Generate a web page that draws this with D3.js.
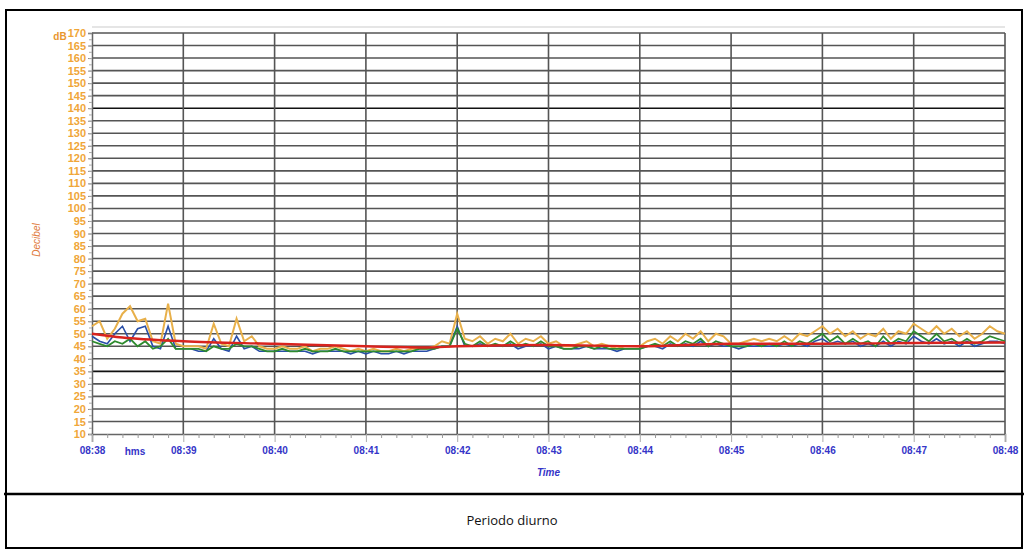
<!DOCTYPE html>
<html>
<head>
<meta charset="utf-8">
<script src="https://cdn.jsdelivr.net/npm/d3@7"></script>
<style>
  body { margin: 0; background: #fff; }
  svg { display: block; }
</style>
</head>
<body>
<div id="chart"></div>
<script>
// sample times: seconds since 08:38:00, one value every 5 s
const step = 5;
const orangeVals = [
  53, 55, 48, 52, 58, 61, 55, 56, 47, 46, 62, 46, 45,
  45, 45, 44, 54, 46, 45, 56, 47, 49, 45, 44,
  44, 45, 44, 44, 45, 43, 44, 44, 45, 44, 43, 44,
  43, 44, 43, 43, 44, 43, 44, 44, 44, 45, 47, 46,
  58, 48, 47, 49, 46, 48, 47, 50, 46, 48, 47, 49,
  46, 47, 45, 45, 46, 47, 45, 46, 45, 44, 45, 45,
  45, 47, 48, 46, 49, 47, 50, 48, 51, 47, 50, 49,
  46, 46, 47, 48, 47, 48, 47, 49, 47, 50, 49, 51,
  53, 50, 52, 49, 51, 48, 50, 49, 52, 48, 51, 50,
  54, 52, 50, 53, 50, 52, 49, 51, 48, 50, 53, 51, 50
];
const greenVals = [
  47, 46, 45, 47, 46, 48, 45, 47, 44, 45, 48, 44, 44,
  44, 44, 43, 45, 44, 44, 46, 45, 45, 44, 43,
  43, 44, 43, 43, 44, 43, 43, 43, 44, 43, 43, 43,
  43, 43, 43, 43, 43, 43, 43, 44, 44, 44, 45, 45,
  52, 46, 45, 47, 45, 46, 45, 47, 45, 46, 45, 47,
  45, 45, 44, 44, 45, 45, 44, 45, 44, 44, 44, 44,
  44, 45, 46, 45, 47, 45, 47, 46, 48, 45, 47, 46,
  45, 45, 45, 46, 45, 46, 45, 47, 45, 47, 46, 48,
  50, 47, 49, 46, 48, 46, 47, 45, 49, 46, 48, 47,
  51, 49, 47, 50, 47, 48, 46, 48, 46, 47, 49, 48, 47
];
const blueVals = [
  49, 47, 46, 50, 53, 47, 52, 53, 45, 44, 53, 44, 44,
  44, 43, 43, 48, 44, 43, 49, 44, 45, 43, 43,
  43, 43, 43, 43, 43, 42, 43, 43, 43, 43, 42, 43,
  42, 43, 42, 42, 43, 42, 43, 43, 43, 44, 45, 45,
  53, 45, 45, 46, 45, 45, 45, 46, 44, 45, 45, 46,
  44, 45, 44, 44, 44, 45, 44, 44, 44, 43, 44, 44,
  44, 45, 45, 44, 46, 45, 46, 45, 47, 45, 46, 45,
  45, 44, 45, 45, 45, 45, 45, 46, 45, 46, 45, 47,
  48, 46, 47, 46, 47, 45, 46, 45, 47, 45, 47, 46,
  49, 47, 46, 48, 46, 47, 45, 47, 45, 46, 47, 47, 46
];
// red running level, read at these seconds
const redTimes = [0, 20, 60, 120, 180, 220, 240, 300, 360, 420, 480, 540, 600];
const redVals = [50, 48.5, 47, 46, 45, 44.5, 45, 45.5, 45, 46, 46, 46.3, 46.5];

const yTicks = d3.range(10, 171, 5);
const xTickLabels = ["08:38", "08:39", "08:40", "08:41", "08:42", "08:43", "08:44", "08:45", "08:46", "08:47", "08:48"];

const width = 1024, height = 549;
const plot = { left: 92, right: 1005, top: 33, bottom: 434 };

const svg = d3.select("#chart").append("svg")
  .attr("width", width).attr("height", height);

// outer frame and caption box
svg.append("rect").attr("x", 6).attr("y", 10).attr("width", 1016).attr("height", 538)
  .attr("fill", "none").attr("stroke", "#000").attr("stroke-width", 2);
svg.append("line").attr("x1", 4).attr("x2", 1024).attr("y1", 494).attr("y2", 494)
  .attr("stroke", "#000").attr("stroke-width", 2.5);
svg.append("text").attr("x", 512).attr("y", 525).attr("text-anchor", "middle")
  .attr("font-family", "'Open Sans', 'Liberation Sans', sans-serif").attr("font-size", 13)
  .attr("fill", "#111").text("Periodo diurno");

const x = d3.scaleLinear().domain([0, 600]).range([plot.left, plot.right]);
const y = d3.scaleLinear().domain([10, 170]).range([plot.bottom, plot.top]);

// faint top band of the chart area
svg.append("line").attr("x1", plot.left).attr("x2", plot.right).attr("y1", 27).attr("y2", 27)
  .attr("stroke", "#ddd").attr("stroke-width", 1.5);

// horizontal grid
svg.append("g").selectAll("line").data(yTicks.filter(v => v > 10)).join("line")
  .attr("x1", plot.left).attr("x2", plot.right)
  .attr("y1", d => y(d)).attr("y2", d => y(d))
  .attr("stroke", d => (d === 35 || d === 140) ? "#111" : "#555")
  .attr("stroke-width", 1.6);

// vertical grid
svg.append("g").selectAll("line").data(d3.range(60, 601, 60)).join("line")
  .attr("x1", d => x(d)).attr("x2", d => x(d))
  .attr("y1", plot.top).attr("y2", plot.bottom)
  .attr("stroke", "#555").attr("stroke-width", 1.6);

// y axis
const yAxis = svg.append("g").attr("transform", `translate(${plot.left},0)`)
  .call(d3.axisLeft(y).tickValues(yTicks).tickSize(4).tickPadding(2));
yAxis.select(".domain").attr("stroke", "#666").attr("stroke-width", 1.5);
yAxis.selectAll(".tick line").attr("stroke", "#888");
yAxis.selectAll(".tick text")
  .attr("fill", "#f0a638").attr("font-family", "'Liberation Sans', Arial, sans-serif")
  .attr("font-size", 11).attr("font-weight", "bold");
svg.append("g").attr("transform", `translate(${plot.left},0)`)
  .call(d3.axisLeft(y).tickValues(d3.range(10, 170, 2.5)).tickSize(3).tickFormat(""))
  .call(g => g.select(".domain").remove())
  .selectAll("line").attr("stroke", "#aaa");

svg.append("text").attr("x", 60).attr("y", 40).attr("text-anchor", "middle")
  .attr("fill", "#e8962e").attr("font-family", "'Liberation Sans', Arial, sans-serif")
  .attr("font-size", 10).attr("font-weight", "bold").text("dB");
svg.append("text").attr("transform", "translate(40,240) rotate(-90)").attr("text-anchor", "middle")
  .attr("fill", "#e07a3a").attr("font-family", "'Liberation Sans', Arial, sans-serif")
  .attr("font-size", 10).attr("font-style", "italic").text("Decibel");

// x axis
const xAxis = svg.append("g").attr("transform", `translate(0,${plot.bottom})`)
  .call(d3.axisBottom(x).tickValues(d3.range(0, 601, 60)).tickSize(8).tickPadding(5)
    .tickFormat((d, i) => xTickLabels[i]));
xAxis.select(".domain").attr("stroke", "#666").attr("stroke-width", 1.5);
xAxis.selectAll(".tick line").attr("stroke", "#aaa");
xAxis.selectAll(".tick text")
  .attr("fill", "#3535c8").attr("font-family", "'Liberation Sans', Arial, sans-serif")
  .attr("font-size", 10).attr("font-weight", "bold");
svg.append("g").attr("transform", `translate(0,${plot.bottom})`)
  .call(d3.axisBottom(x).tickValues(d3.range(0, 600, 10).filter(d => d % 60)).tickSize(4).tickFormat(""))
  .call(g => g.select(".domain").remove())
  .selectAll("line").attr("stroke", "#999");

svg.append("text").attr("x", 135).attr("y", 455).attr("text-anchor", "middle")
  .attr("fill", "#3535c8").attr("font-family", "'Liberation Sans', Arial, sans-serif")
  .attr("font-size", 10).attr("font-weight", "bold").text("hms");
svg.append("text").attr("x", x(300)).attr("y", 476).attr("text-anchor", "middle")
  .attr("fill", "#3535c8").attr("font-family", "'Liberation Sans', Arial, sans-serif")
  .attr("font-size", 10).attr("font-weight", "bold").attr("font-style", "italic").text("Time");

// series
const line = d3.line().x(d => x(d[0])).y(d => y(d[1]));
const toPts = vals => vals.map((v, i) => [i * step, v]);

svg.append("path").datum(toPts(orangeVals))
  .attr("fill", "none").attr("stroke", "#e8b04a").attr("stroke-width", 2).attr("d", line);
svg.append("path").datum(toPts(blueVals))
  .attr("fill", "none").attr("stroke", "#2a4fa8").attr("stroke-width", 1.6).attr("d", line);
svg.append("path").datum(toPts(greenVals))
  .attr("fill", "none").attr("stroke", "#2e8b2e").attr("stroke-width", 1.8).attr("d", line);
svg.append("path").datum(redTimes.map((t, i) => [t, redVals[i]]))
  .attr("fill", "none").attr("stroke", "#d8231e").attr("stroke-width", 2.4)
  .attr("d", line.curve(d3.curveMonotoneX));
</script>
</body>
</html>
